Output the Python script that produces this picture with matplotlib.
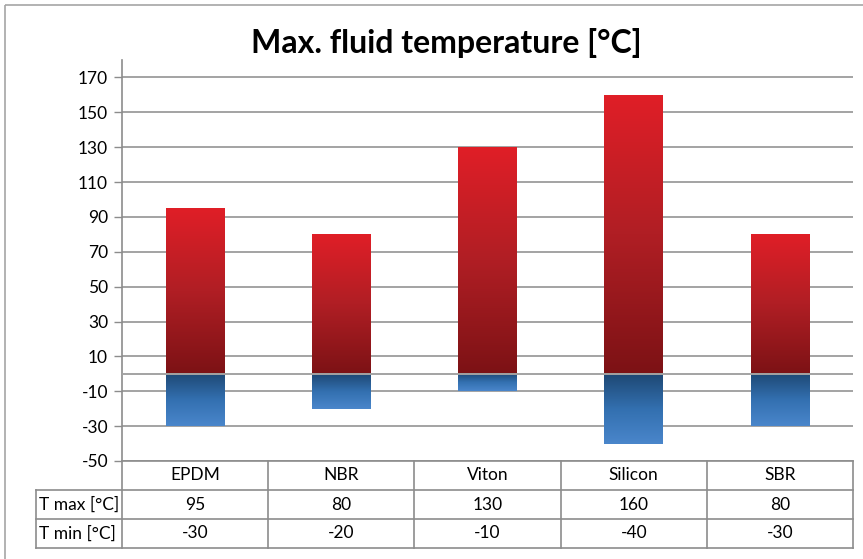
import numpy as np
import matplotlib
matplotlib.use("Agg")
import matplotlib.pyplot as plt
from matplotlib.colors import LinearSegmentedColormap
from matplotlib.patches import Rectangle

# chart data
materials = ["EPDM", "NBR", "Viton", "Silicon", "SBR"]
t_max = [95, 80, 130, 160, 80]
t_min = [-30, -20, -10, -40, -30]
row_labels = ["T max [°C]", "T min [°C]"]
y_ticks = list(range(-50, 171, 20))

W, H = 863, 559
plt.rcParams["font.family"] = ["Lato", "DejaVu Sans"]
plt.rcParams["axes.unicode_minus"] = False

RED = LinearSegmentedColormap.from_list("red", ["#7C1215", "#B01E24", "#E01F27"])
BLUE = LinearSegmentedColormap.from_list("blue", ["#4A86CB", "#3370B0", "#1E4874"])
GRID = "#A3A3A3"
LINE = "#8C8C8C"


def px(x, y):
    # pixel coords (top-left origin) -> figure fraction
    return (x / W, 1 - y / H)


def gradient_bars(ax, values, cmap):
    bars = ax.bar(range(len(values)), values, width=0.4, color="none", zorder=3)
    grad = np.linspace(0, 1, 256).reshape(-1, 1)
    for bar in bars:
        x0, y0 = bar.get_x(), bar.get_y()
        w, h = bar.get_width(), bar.get_height()
        lo, hi = min(y0, y0 + h), max(y0, y0 + h)
        im = ax.imshow(grad, cmap=cmap, aspect="auto", origin="lower",
                       extent=(x0, x0 + w, lo, hi), zorder=2.5)
        im.set_clip_path(bar)
    return bars


fig = plt.figure(figsize=(W / 100, H / 100), dpi=100)
fig.patches.append(Rectangle(px(5, 5), 1, -1, transform=fig.transFigure,
                             fill=False, edgecolor="#A6A6A6", linewidth=1.2))

left, right = 122 / W, 853 / W
bottom, top = 1 - 461 / H, 1 - 60 / H
ax = fig.add_axes([left, bottom, right - left, top - bottom])

gradient_bars(ax, t_max, RED)
gradient_bars(ax, t_min, BLUE)

ax.set_xlim(-0.5, len(materials) - 0.5)
ax.set_ylim(-50, 180)
ax.set_yticks(y_ticks)
ax.set_xticks([])
for v in y_ticks:
    ax.axhline(v, color=GRID, linewidth=1.4, zorder=1)
ax.axhline(0, color=GRID, linewidth=1.4, zorder=4)
ax.tick_params(axis="y", length=6, width=1, color=LINE, labelsize=12.5, pad=4,
               labelcolor="#000000")
for name in ("top", "right", "bottom"):
    ax.spines[name].set_visible(False)
ax.spines["left"].set_color(LINE)
ax.spines["left"].set_linewidth(1.2)
ax.set_facecolor("none")

fig.text(446 / W, 1 - 43 / H, "Max. fluid temperature [°C]", ha="center",
         va="center", fontsize=23, fontweight="bold")

# data table below the plot area
row_y = [461, 490, 519, 548]
col_x = [122 + i * (853 - 122) / len(materials) for i in range(len(materials) + 1)]
label_left = 36
lk = dict(color=LINE, linewidth=1.2, transform=fig.transFigure)
fig.add_artist(plt.Line2D([col_x[0] / W, col_x[-1] / W], [1 - row_y[0] / H] * 2, **lk))
for yy in row_y[1:]:
    fig.add_artist(plt.Line2D([label_left / W, col_x[-1] / W], [1 - yy / H] * 2, **lk))
for xx in col_x:
    fig.add_artist(plt.Line2D([xx / W] * 2, [1 - row_y[0] / H, 1 - row_y[-1] / H], **lk))
fig.add_artist(plt.Line2D([label_left / W] * 2, [1 - row_y[1] / H, 1 - row_y[-1] / H], **lk))

rows = [materials, [str(v) for v in t_max], [str(v) for v in t_min]]
for r, cells in enumerate(rows):
    yc = (row_y[r] + row_y[r + 1]) / 2
    for c, txt in enumerate(cells):
        xc = (col_x[c] + col_x[c + 1]) / 2
        fig.text(xc / W, 1 - yc / H, txt, ha="center", va="center", fontsize=12.5)
for r, txt in enumerate(row_labels):
    yc = (row_y[r + 1] + row_y[r + 2]) / 2
    fig.text((label_left + 3) / W, 1 - yc / H, txt, ha="left", va="center", fontsize=12.5)

fig.savefig("out.png", dpi=100, facecolor="white")
